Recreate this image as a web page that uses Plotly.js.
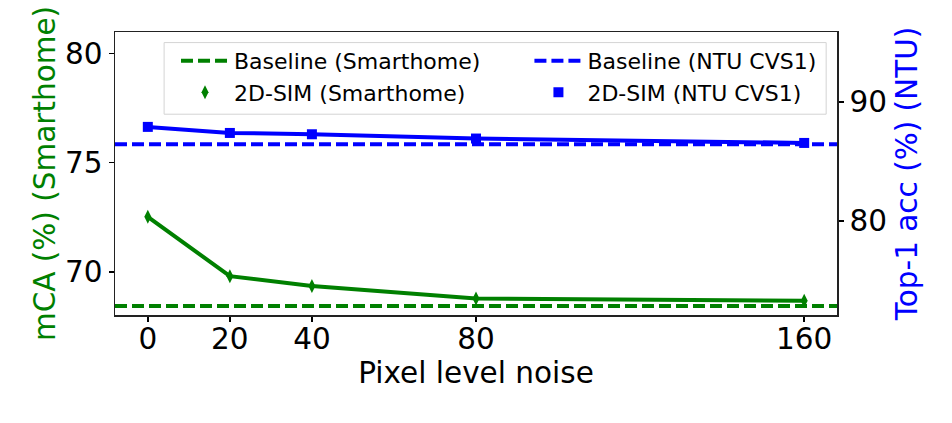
<!DOCTYPE html>
<html>
<head>
<meta charset="utf-8">
<script src="https://cdn.plot.ly/plotly-3.0.1.min.js"></script>
<style>
  html, body { margin: 0; padding: 0; background: #fff; }
  #chart { width: 952px; height: 423px; }
</style>
</head>
<body>
<div id="chart"></div>
<script>
// pixel level noise values on the x axis
const noise = [0, 20, 40, 80, 160];
const noise_ticks = [0, 20, 40, 80, 160];

// Smarthome, mCA (%), left axis
const sim_smarthome = [72.52, 69.80, 69.35, 68.78, 68.67];
const baseline_smarthome = 68.43;

// NTU CVS1, top-1 acc (%), right axis
const sim_ntu = [87.90, 87.39, 87.28, 86.92, 86.55];
const baseline_ntu = 86.44;

const x_range = [-8, 168];
const y1_range = [68.02, 80.99];
const y2_range = [72.08, 95.88];

const GREEN = '#008000';
const BLUE = '#0000ff';
const FONT = 'DejaVu Sans, sans-serif';
const SIZE = 29.5;

let traces = [
    {
        x: x_range, y: [baseline_smarthome, baseline_smarthome],
        mode: 'lines', name: 'Baseline (Smarthome)',
        line: {color: GREEN, width: 4, dash: '12px,5px'},
        yaxis: 'y', legend: 'legend', legendgroup: 'a',
    },
    {
        x: x_range, y: [baseline_ntu, baseline_ntu],
        mode: 'lines', name: 'Baseline (NTU CVS1)',
        line: {color: BLUE, width: 4, dash: '12px,5px'},
        yaxis: 'y2', legend: 'legend2', legendgroup: 'c',
    },
    // lines for the 2D-SIM series (legend shows the marker only)
    {
        x: noise, y: sim_smarthome,
        mode: 'lines', showlegend: false,
        line: {color: GREEN, width: 4},
        yaxis: 'y',
    },
    {
        x: noise, y: sim_smarthome,
        mode: 'markers', name: '2D-SIM (Smarthome)',
        marker: {color: GREEN, symbol: 'diamond-tall', size: 10},
        yaxis: 'y', legend: 'legend', legendgroup: 'b',
    },
    {
        x: noise, y: sim_ntu,
        mode: 'lines', showlegend: false,
        line: {color: BLUE, width: 4},
        yaxis: 'y2',
    },
    {
        x: noise, y: sim_ntu,
        mode: 'markers', name: '2D-SIM (NTU CVS1)',
        marker: {color: BLUE, symbol: 'square', size: 10},
        yaxis: 'y2', legend: 'legend2', legendgroup: 'd',
    },
];

let legend_common = {
    bgcolor: 'rgba(0,0,0,0)',
    borderwidth: 0,
    font: {family: FONT, size: 22, color: '#000'},
    xanchor: 'left', yanchor: 'top',
    traceorder: 'grouped',
    tracegroupgap: 0,
    itemwidth: 48,
};

let layout = {
    width: 952, height: 423,
    margin: {l: 115, r: 115, t: 32, b: 108},
    paper_bgcolor: '#fff', plot_bgcolor: '#fff',
    font: {family: FONT, size: SIZE, color: '#000'},
    showlegend: true,
    legend: Object.assign({x: 0.0845, y: 0.972}, legend_common),
    legend2: Object.assign({x: 0.574, y: 0.972}, legend_common),
    xaxis: {
        range: x_range, tickvals: noise_ticks,
        ticks: 'outside', ticklen: 5, tickwidth: 1.5, tickcolor: '#000',
        ticklabelstandoff: -8,
        showline: true, linecolor: '#222', linewidth: 1.5, mirror: true,
        showgrid: false, zeroline: false,
        tickfont: {family: FONT, size: SIZE},
        title: {text: 'Pixel level noise', font: {family: FONT, size: SIZE}, standoff: 0},
    },
    yaxis: {
        range: y1_range, tickvals: [70, 75, 80],
        ticks: 'outside', ticklen: 5, tickwidth: 1.5, tickcolor: '#000',
        showline: true, linecolor: '#222', linewidth: 1.5, mirror: true,
        showgrid: false, zeroline: false,
        tickfont: {family: FONT, size: SIZE},
        title: {text: 'mCA (%) (Smarthome)', font: {family: FONT, size: SIZE, color: GREEN}, standoff: 0},
    },
    yaxis2: {
        range: y2_range, tickvals: [80, 90],
        overlaying: 'y', side: 'right',
        ticks: 'outside', ticklen: 5, tickwidth: 1.5, tickcolor: '#000',
        showline: true, linecolor: '#222', linewidth: 1.5,
        showgrid: false, zeroline: false,
        tickfont: {family: FONT, size: SIZE},
        title: {text: 'Top-1 acc (%) (NTU)', font: {family: FONT, size: SIZE, color: BLUE}, standoff: 10},
    },
    shapes: [
        // legend frame round both legend columns
        {
            type: 'rect', xref: 'paper', yref: 'paper',
            x0: 0.068, x1: 0.985, y0: 0.7095, y1: 0.9626,
            line: {color: '#d4d4d4', width: 1},
            fillcolor: 'rgba(255,255,255,0.8)', layer: 'below',
        },
    ],
};

Plotly.newPlot('chart', traces, layout, {staticPlot: true, displayModeBar: false});
</script>
</body>
</html>
